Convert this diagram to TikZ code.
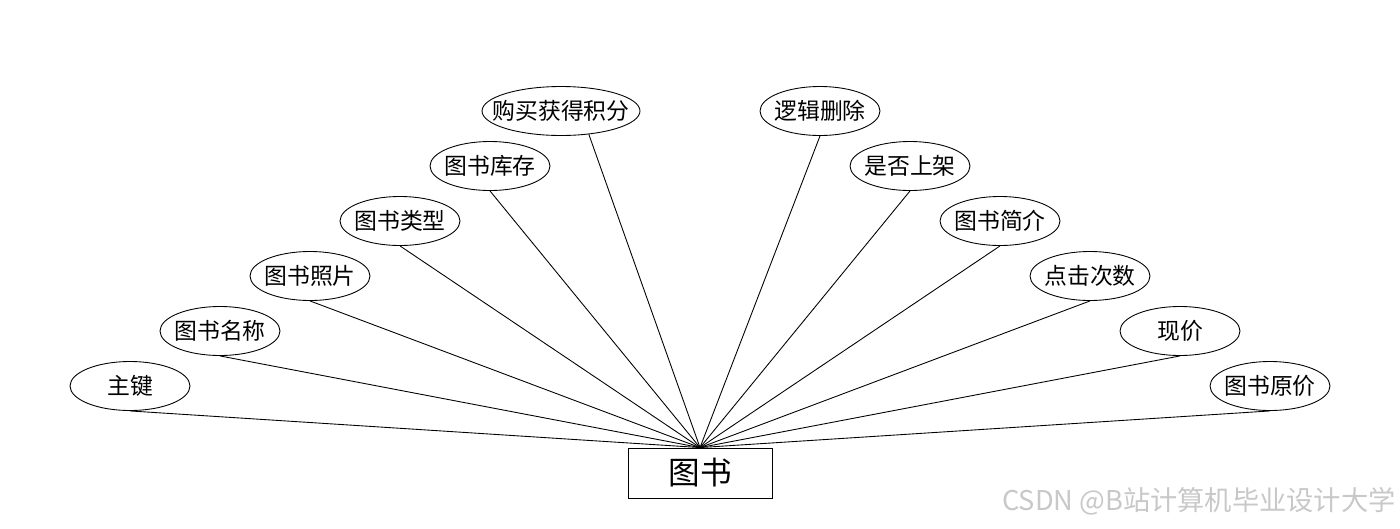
\documentclass[tikz,border=0pt]{standalone}
\usepackage{fontspec}
\setmainfont{Noto Sans CJK SC}
\usepackage{xcolor}
\usepackage{tikz}
\usetikzlibrary{shapes.geometric}
\definecolor{wmgray}{HTML}{C8C8C8}
\newcommand{\lbl}[1]{\makebox[0pt]{#1}}

\begin{document}
\begin{tikzpicture}[x=0.02cm, y=-0.02cm, line width=0.5pt,
  attr/.style={ellipse, draw, minimum width=#1, minimum height=0.98cm,
               inner sep=0pt, font=\fontsize{13pt}{15pt}\selectfont},
  attr/.default=2.4cm,
  entity/.style={rectangle, draw, minimum width=2.88cm, minimum height=1cm,
                 font=\fontsize{18pt}{20pt}\selectfont},
]
\useasboundingbox (0,0) rectangle (1400,528);

\node[entity] (book) at (700,473) {图书};

% left side
\node[attr] (key)    at (130,386) {\lbl{主键}};
\node[attr] (name)   at (220,331) {\lbl{图书名称}};
\node[attr] (photo)  at (310,276) {\lbl{图书照片}};
\node[attr] (type)   at (400,221) {\lbl{图书类型}};
\node[attr] (stock)  at (490,166) {\lbl{图书库存}};
\node[attr=3.16cm] (points) at (561,111) {\lbl{购买获得积分}};

% right side
\node[attr] (del)    at (820,111) {\lbl{逻辑删除}};
\node[attr] (shelf)  at (910,166) {\lbl{是否上架}};
\node[attr] (intro)  at (1000,221) {\lbl{图书简介}};
\node[attr] (clicks) at (1090,276) {\lbl{点击次数}};
\node[attr] (price)  at (1180,331) {\lbl{现价}};
\node[attr] (orig)   at (1270,386) {\lbl{图书原价}};

\foreach \a in {key,name,photo,type,stock,del,shelf,intro,clicks,price,orig}
  \draw (\a.south) -- (book.north);
\draw (points.-40) -- (book.north);

\node[anchor=east, text=wmgray, inner sep=0pt,
      font=\fontsize{15.5pt}{17pt}\selectfont] (wm) at (1396,501) {CSDN @B站计算机毕业设计大学};

\end{tikzpicture}
\end{document}
